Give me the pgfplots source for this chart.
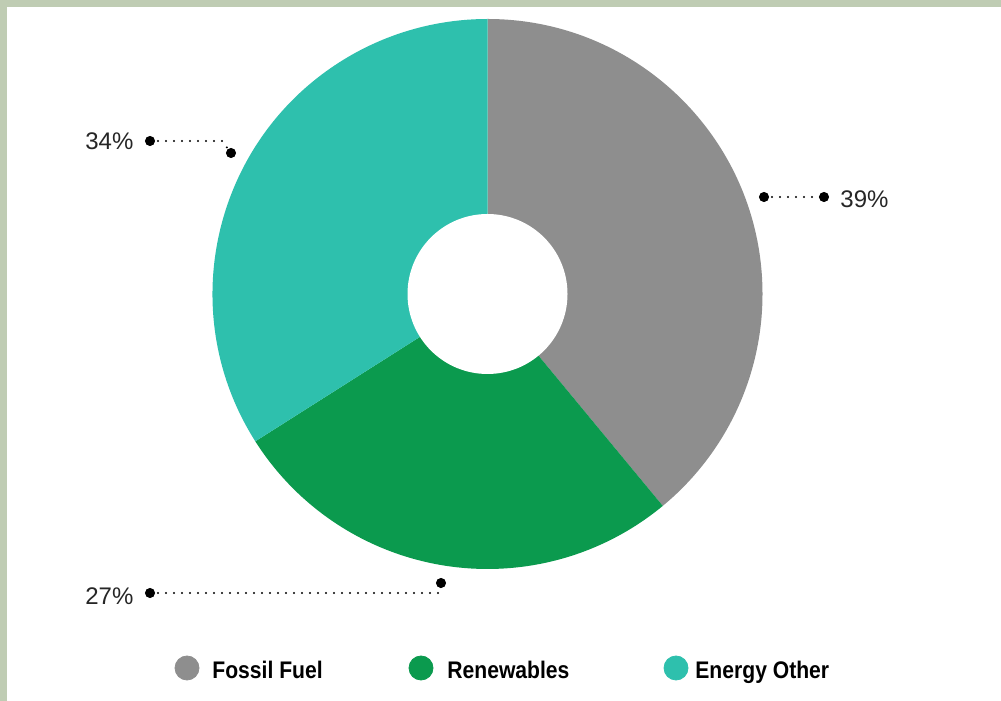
\documentclass[border=0pt]{standalone}
\usepackage{pgfplots}
\pgfplotsset{compat=1.18}
\usepackage{pgfplotstable}
\usepackage{fontspec}
\setmainfont{Liberation Sans}
\definecolor{framec}{HTML}{BFCCB3}
\definecolor{fossil}{HTML}{8E8E8E}
\definecolor{renew}{HTML}{0B9A4E}
\definecolor{other}{HTML}{2EC0AD}

\pgfplotstableread{
label value
Fossil 39
Renewables 27
Other 34
}\slices

\pgfplotstablegetelem{0}{value}\of\slices \let\va\pgfplotsretval
\pgfplotstablegetelem{1}{value}\of\slices \let\vb\pgfplotsretval
\pgfplotstablegetelem{2}{value}\of\slices \let\vc\pgfplotsretval
\pgfmathsetmacro{\aA}{90}
\pgfmathsetmacro{\aB}{90-3.6*\va}
\pgfmathsetmacro{\aC}{\aB-3.6*\vb}
\pgfmathsetmacro{\aD}{\aC-3.6*\vc}

\begin{document}
\begin{tikzpicture}
\begin{axis}[
  hide axis, scale only axis,
  x=0.5pt, y=0.5pt,
  xmin=0, xmax=1001, ymin=0, ymax=701,
  clip=false,
]
% background frame
\fill[framec] (axis cs:0,0) rectangle (axis cs:1001,701);
\fill[white] (axis cs:7,0) rectangle (axis cs:1001,694);
% donut slices
\fill[fossil] (axis cs:487.5,407) -- ++(\aA:137.5pt) arc[start angle=\aA, end angle=\aB, radius=137.5pt] -- cycle;
\fill[renew] (axis cs:487.5,407) -- ++(\aB:137.5pt) arc[start angle=\aB, end angle=\aC, radius=137.5pt] -- cycle;
\fill[other] (axis cs:487.5,407) -- ++(\aC:137.5pt) arc[start angle=\aC, end angle=\aD, radius=137.5pt] -- cycle;
\fill[white] (axis cs:487.5,407) circle[radius=40pt];
% leader lines
\addplot[black, line width=1.1pt, dash pattern=on 0pt off 4pt, line cap=round] coordinates {(764,504) (824,504)};
\addplot[black, line width=1.1pt, dash pattern=on 0pt off 4pt, line cap=round] coordinates {(150,560) (222,560) (231,548)};
\addplot[black, line width=1.1pt, dash pattern=on 0pt off 4pt, line cap=round] coordinates {(150,108) (440,108) (441,118)};
\addplot[only marks, mark=*, mark size=2.3pt, black] coordinates {(764,504) (824,504) (150,560) (231,548) (150,108) (441,118)};
% labels
\node[anchor=base west, font=\fontsize{12}{14}\selectfont, text=black!85, inner sep=0pt] at (axis cs:85,551) {34\%};
\node[anchor=base west, font=\fontsize{12}{14}\selectfont, text=black!85, inner sep=0pt] at (axis cs:840,493) {39\%};
\node[anchor=base west, font=\fontsize{12}{14}\selectfont, text=black!85, inner sep=0pt] at (axis cs:85,96) {27\%};
% legend
\addplot[only marks, mark=*, mark size=6pt, fossil] coordinates {(187,33)};
\addplot[only marks, mark=*, mark size=6pt, renew] coordinates {(421,33)};
\addplot[only marks, mark=*, mark size=6pt, other] coordinates {(676,33)};
\node[anchor=base west, font=\bfseries\fontsize{12}{14}\selectfont, inner sep=0pt] at (axis cs:212,22) {\scalebox{0.88}[1]{Fossil Fuel}};
\node[anchor=base west, font=\bfseries\fontsize{12}{14}\selectfont, inner sep=0pt] at (axis cs:447,22) {\scalebox{0.88}[1]{Renewables}};
\node[anchor=base west, font=\bfseries\fontsize{12}{14}\selectfont, inner sep=0pt] at (axis cs:695,22) {\scalebox{0.88}[1]{Energy Other}};
\end{axis}
\end{tikzpicture}
\end{document}
